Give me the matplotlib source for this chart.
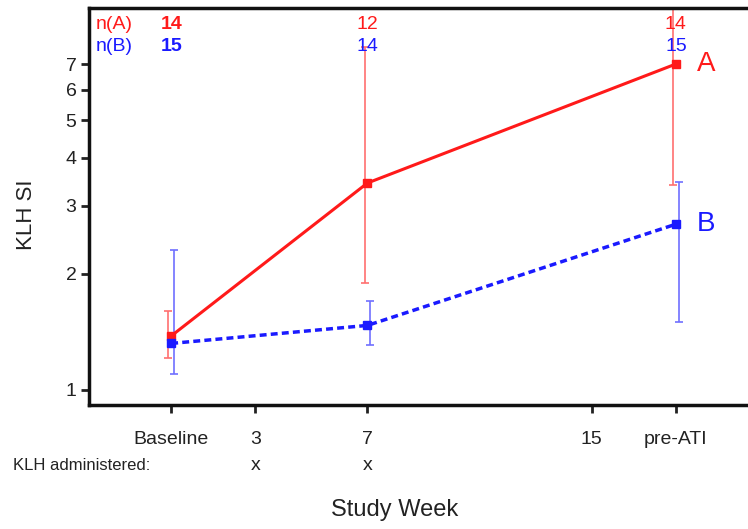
import matplotlib
matplotlib.use("Agg")
import matplotlib.pyplot as plt
from matplotlib.ticker import FixedLocator, NullLocator

plt.rcParams["font.family"] = ["Liberation Sans", "DejaVu Sans"]

weeks = [0, 3, 7, 15, 18]
week_labels = ["Baseline", "3", "7", "15", "pre-ATI"]
x_pts = [0, 7, 18]
a_mean = [1.38, 3.44, 7.0]
a_low = [1.21, 1.89, 3.40]
a_high = [1.60, 7.75, 12.0]
b_mean = [1.32, 1.47, 2.69]
b_low = [1.10, 1.31, 1.50]
b_high = [2.31, 1.70, 3.46]
n_a = ["14", "12", "14"]
n_b = ["15", "14", "15"]
klh_admin = [3, 7]
yticks = [1, 2, 3, 4, 5, 6, 7]

fig = plt.figure(figsize=(7.48, 5.29), dpi=100)
W, H = 748, 529
ax = fig.add_axes([89 / W, 1 - 405 / H, (760 - 89) / W, (405 - 8) / H])
ax.set_yscale("log")
ax.set_ylim(0.914, 9.78)
ax.set_xlim(-2.93, 21.0)

red = "#ff1a1a"
blue = "#1a1aff"
off = 0.1
ax.errorbar([x - off for x in x_pts], a_mean,
            yerr=[[m - l for m, l in zip(a_mean, a_low)], [h - m for m, h in zip(a_mean, a_high)]],
            fmt="none", ecolor="#ff7070", elinewidth=1.2, capsize=3, capthick=1.2)
ax.errorbar([x + off for x in x_pts], b_mean,
            yerr=[[m - l for m, l in zip(b_mean, b_low)], [h - m for m, h in zip(b_mean, b_high)]],
            fmt="none", ecolor="#6f6fff", elinewidth=1.2, capsize=3, capthick=1.2)
ax.plot(x_pts, a_mean, color=red, lw=2.2, marker="s", ms=6, zorder=3)
ax.plot(x_pts, b_mean, color=blue, lw=2.5, ls=(0, (2, 1.2)), marker="s", ms=6, zorder=3)

ax.text(18.75, a_mean[-1], "A", color=red, fontsize=20, va="center", ha="left")
ax.text(18.75, b_mean[-1], "B", color=blue, fontsize=20, va="center", ha="left")

# n labels
ax.text(-2.7, 8.85, "n(A)", color=red, fontsize=14, va="center", ha="left")
ax.text(-2.7, 7.75, "n(B)", color=blue, fontsize=14, va="center", ha="left")
for i, x in enumerate(x_pts):
    bold = "bold" if i == 0 else "normal"
    ax.text(x, 8.85, n_a[i], color=red, fontsize=14, va="center", ha="center", fontweight=bold)
    ax.text(x, 7.75, n_b[i], color=blue, fontsize=14, va="center", ha="center", fontweight=bold)

ax.yaxis.set_major_locator(FixedLocator(yticks))
ax.yaxis.set_minor_locator(NullLocator())
ax.set_yticklabels([str(t) for t in yticks], fontsize=14)
ax.set_xticks(weeks)
ax.set_xticklabels(week_labels, fontsize=14)
ax.tick_params(axis="both", direction="out", width=2, length=6, color="#222222", labelcolor="#222222")
ax.tick_params(axis="x", pad=13)
ax.tick_params(axis="y", pad=3)
for s in ax.spines.values():
    s.set_linewidth(2.5)
    s.set_color("#111111")
ax.spines["right"].set_visible(False)

fig.text(27 / W, 1 - 215 / H, "KLH SI", fontsize=16, rotation=90, va="center", ha="center", color="#222222")

fig.text(13 / W, 1 - 465 / H, "KLH administered:", fontsize=12, va="center", ha="left", color="#222222")
for wk in klh_admin:
    xd = ax.transData.transform((wk, 1))[0]
    fig.text(xd / W, 1 - 465 / H, "x", fontsize=14, va="center", ha="center", color="#222222")
fig.text(395 / W, 1 - 510 / H, "Study Week", fontsize=17, va="center", ha="center", color="#222222")

fig.savefig("out.png", dpi=100)
